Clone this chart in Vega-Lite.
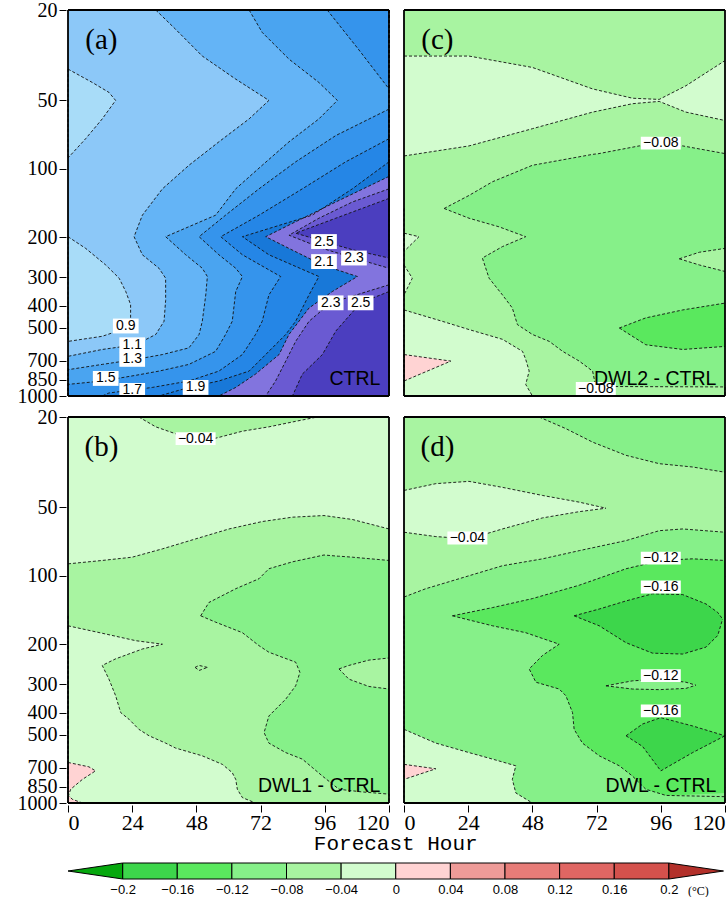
{
"$schema":"https://vega.github.io/schema/vega-lite/v6.json",
"background":"white",
"padding":{"left":5,"top":0,"right":0,"bottom":0},
"spacing":0,
"resolve":{"scale":{"x":"independent","y":"independent","color":"shared"}},
"config":{
 "view":{"stroke":null},
 "font":"Liberation Sans",
 "header":{"labels":false,"title":null,"labelFontSize":0,"labelPadding":0,"titlePadding":0},
 "headerFacet":{"labels":false,"title":null,"labelFontSize":0,"labelPadding":0,"titlePadding":0},
 "axis":{"grid":true,"gridColor":"#b4b4b4","gridDash":[2,3],"gridWidth":1,"domain":false,"tickColor":"black","tickSize":7,"tickWidth":1,"labelColor":"black","zindex":1,"title":null,"labelFlush":false,"labelOverlap":false},
 "axisX":{"labelFont":"Liberation Serif","labelFontSize":22,"labelPadding":0,"labelFlush":true},
 "axisY":{"labelFont":"Liberation Serif","labelFontSize":20,"labelPadding":2,"minExtent":61,"maxExtent":61}
},
"datasets":{
"m":[
{"k":"N","P":"a","s":"(a)","n":"CTRL"},
{"k":"N","P":"b","s":"(b)","n":"DWL1 - CTRL"},
{"k":"N","P":"c","s":"(c)","n":"DWL2 - CTRL"},
{"k":"N","P":"d","s":"(d)","n":"DWL - CTRL"},
{"k":"V","P":"a","r":"a0","z":0,"c":"a1","h":0,"p":20,"p2":1000},
{"k":"V","P":"a","r":"a0","z":0,"c":"a1","h":120,"p":20,"p2":1000},
{"k":"H","P":"a","r":"ap1","z":1,"c":"a0","p":36.4,"h":0,"h2":0},
{"k":"H","P":"a","r":"ap1","z":1,"c":"a0","p":41.7,"h":0,"h2":9.1},
{"k":"H","P":"a","r":"ap1","z":1,"c":"a0","p":46.1,"h":0,"h2":15.3},
{"k":"H","P":"a","r":"ap1","z":1,"c":"a0","p":50.0,"h":0,"h2":17.8},
{"k":"H","P":"a","r":"ap1","z":1,"c":"a0","p":60.3,"h":0,"h2":12.8},
{"k":"H","P":"a","r":"ap1","z":1,"c":"a0","p":73.7,"h":0,"h2":6.6},
{"k":"H","P":"a","r":"ap1","z":1,"c":"a0","p":89.6,"h":0,"h2":0},
{"k":"H","P":"a","r":"ap2","z":1,"c":"a0","p":199,"h":0,"h2":0},
{"k":"H","P":"a","r":"ap2","z":1,"c":"a0","p":224,"h":0,"h2":6.6},
{"k":"H","P":"a","r":"ap2","z":1,"c":"a0","p":265,"h":0,"h2":14.1},
{"k":"H","P":"a","r":"ap2","z":1,"c":"a0","p":303,"h":0,"h2":19.1},
{"k":"H","P":"a","r":"ap2","z":1,"c":"a0","p":347,"h":0,"h2":21.6},
{"k":"H","P":"a","r":"ap2","z":1,"c":"a0","p":396,"h":0,"h2":23.4},
{"k":"H","P":"a","r":"ap2","z":1,"c":"a0","p":469,"h":0,"h2":23.4},
{"k":"H","P":"a","r":"ap2","z":1,"c":"a0","p":510,"h":0,"h2":20.3},
{"k":"H","P":"a","r":"ap2","z":1,"c":"a0","p":546,"h":0,"h2":12.8},
{"k":"H","P":"a","r":"ap2","z":1,"c":"a0","p":575,"h":0,"h2":0},
{"k":"H","P":"a","r":"a11","z":2,"c":"a2","p":20,"h":32.8,"h2":120},
{"k":"H","P":"a","r":"a11","z":2,"c":"a2","p":24.3,"h":40.2,"h2":120},
{"k":"H","P":"a","r":"a11","z":2,"c":"a2","p":31.9,"h":50.2,"h2":120},
{"k":"H","P":"a","r":"a11","z":2,"c":"a2","p":40.3,"h":62.7,"h2":120},
{"k":"H","P":"a","r":"a11","z":2,"c":"a2","p":50.0,"h":75.1,"h2":120},
{"k":"H","P":"a","r":"a11","z":2,"c":"a2","p":60.3,"h":67.7,"h2":120},
{"k":"H","P":"a","r":"a11","z":2,"c":"a2","p":76.1,"h":56.4,"h2":120},
{"k":"H","P":"a","r":"a11","z":2,"c":"a2","p":96.5,"h":45.2,"h2":120},
{"k":"H","P":"a","r":"a11","z":2,"c":"a2","p":122.5,"h":35.3,"h2":120},
{"k":"H","P":"a","r":"a11","z":2,"c":"a2","p":160,"h":27.8,"h2":120},
{"k":"H","P":"a","r":"a11","z":2,"c":"a2","p":199,"h":24.7,"h2":120},
{"k":"H","P":"a","r":"a11","z":2,"c":"a2","p":239,"h":27.8,"h2":120},
{"k":"H","P":"a","r":"a11","z":2,"c":"a2","p":274,"h":34.0,"h2":120},
{"k":"H","P":"a","r":"a11","z":2,"c":"a2","p":303,"h":36.5,"h2":120},
{"k":"H","P":"a","r":"a11","z":2,"c":"a2","p":380,"h":36.5,"h2":120},
{"k":"H","P":"a","r":"a11","z":2,"c":"a2","p":469,"h":35.9,"h2":120},
{"k":"H","P":"a","r":"a11","z":2,"c":"a2","p":536,"h":32.8,"h2":120},
{"k":"H","P":"a","r":"a11","z":2,"c":"a2","p":595,"h":25.3,"h2":120},
{"k":"H","P":"a","r":"a11","z":2,"c":"a2","p":624,"h":12.8,"h2":120},
{"k":"H","P":"a","r":"a11","z":2,"c":"a2","p":669,"h":0,"h2":120},
{"k":"H","P":"a","r":"a11","z":2,"c":"a2","p":1000,"h":0,"h2":120},
{"k":"H","P":"a","r":"a13","z":3,"c":"a3","p":20,"h":67.7,"h2":120},
{"k":"H","P":"a","r":"a13","z":3,"c":"a3","p":25.1,"h":72.6,"h2":120},
{"k":"H","P":"a","r":"a13","z":3,"c":"a3","p":32.9,"h":82.6,"h2":120},
{"k":"H","P":"a","r":"a13","z":3,"c":"a3","p":41.7,"h":93.8,"h2":120},
{"k":"H","P":"a","r":"a13","z":3,"c":"a3","p":50.0,"h":100.7,"h2":120},
{"k":"H","P":"a","r":"a13","z":3,"c":"a3","p":60.3,"h":93.8,"h2":120},
{"k":"H","P":"a","r":"a13","z":3,"c":"a3","p":76.1,"h":82.6,"h2":120},
{"k":"H","P":"a","r":"a13","z":3,"c":"a3","p":96.5,"h":72.6,"h2":120},
{"k":"H","P":"a","r":"a13","z":3,"c":"a3","p":122.5,"h":62.7,"h2":120},
{"k":"H","P":"a","r":"a13","z":3,"c":"a3","p":160,"h":55.2,"h2":120},
{"k":"H","P":"a","r":"a13","z":3,"c":"a3","p":199,"h":36.5,"h2":120},
{"k":"H","P":"a","r":"a13","z":3,"c":"a3","p":239,"h":44.0,"h2":120},
{"k":"H","P":"a","r":"a13","z":3,"c":"a3","p":274,"h":50.2,"h2":120},
{"k":"H","P":"a","r":"a13","z":3,"c":"a3","p":298,"h":52.1,"h2":120},
{"k":"H","P":"a","r":"a13","z":3,"c":"a3","p":359,"h":51.5,"h2":120},
{"k":"H","P":"a","r":"a13","z":3,"c":"a3","p":469,"h":50.2,"h2":120},
{"k":"H","P":"a","r":"a13","z":3,"c":"a3","p":536,"h":49.0,"h2":120},
{"k":"H","P":"a","r":"a13","z":3,"c":"a3","p":614,"h":45.2,"h2":120},
{"k":"H","P":"a","r":"a13","z":3,"c":"a3","p":657,"h":35.3,"h2":120},
{"k":"H","P":"a","r":"a13","z":3,"c":"a3","p":690,"h":25.3,"h2":120},
{"k":"H","P":"a","r":"a13","z":3,"c":"a3","p":726,"h":12.8,"h2":120},
{"k":"H","P":"a","r":"a13","z":3,"c":"a3","p":766,"h":0,"h2":120},
{"k":"H","P":"a","r":"a13","z":3,"c":"a3","p":1000,"h":0,"h2":120},
{"k":"H","P":"a","r":"a15c","z":4,"c":"a4","p":20,"h":96.9,"h2":120},
{"k":"H","P":"a","r":"a15c","z":4,"c":"a4","p":29.6,"h":108.4,"h2":120},
{"k":"H","P":"a","r":"a15c","z":4,"c":"a4","p":44.5,"h":120,"h2":120},
{"k":"H","P":"a","r":"a15","z":4,"c":"a4","p":54.6,"h":120,"h2":120},
{"k":"H","P":"a","r":"a15","z":4,"c":"a4","p":71.4,"h":100.1,"h2":120},
{"k":"H","P":"a","r":"a15","z":4,"c":"a4","p":93.2,"h":85.1,"h2":120},
{"k":"H","P":"a","r":"a15","z":4,"c":"a4","p":122.5,"h":71.4,"h2":120},
{"k":"H","P":"a","r":"a15","z":4,"c":"a4","p":160,"h":58.9,"h2":120},
{"k":"H","P":"a","r":"a15","z":4,"c":"a4","p":199,"h":49.0,"h2":120},
{"k":"H","P":"a","r":"a15","z":4,"c":"a4","p":239,"h":56.4,"h2":120},
{"k":"H","P":"a","r":"a15","z":4,"c":"a4","p":274,"h":62.7,"h2":120},
{"k":"H","P":"a","r":"a15","z":4,"c":"a4","p":298,"h":65.2,"h2":120},
{"k":"H","P":"a","r":"a15","z":4,"c":"a4","p":347,"h":62.7,"h2":120},
{"k":"H","P":"a","r":"a15","z":4,"c":"a4","p":469,"h":61.4,"h2":120},
{"k":"H","P":"a","r":"a15","z":4,"c":"a4","p":536,"h":58.9,"h2":120},
{"k":"H","P":"a","r":"a15","z":4,"c":"a4","p":636,"h":55.2,"h2":120},
{"k":"H","P":"a","r":"a15","z":4,"c":"a4","p":726,"h":45.2,"h2":120},
{"k":"H","P":"a","r":"a15","z":4,"c":"a4","p":777,"h":34.0,"h2":120},
{"k":"H","P":"a","r":"a15","z":4,"c":"a4","p":811,"h":25.3,"h2":120},
{"k":"H","P":"a","r":"a15","z":4,"c":"a4","p":859,"h":12.8,"h2":120},
{"k":"H","P":"a","r":"a15","z":4,"c":"a4","p":889,"h":0,"h2":120},
{"k":"H","P":"a","r":"a15","z":4,"c":"a4","p":1000,"h":0,"h2":120},
{"k":"H","P":"a","r":"a17","z":5,"c":"a5","p":73.7,"h":120,"h2":120},
{"k":"H","P":"a","r":"a17","z":5,"c":"a5","p":93.2,"h":103.8,"h2":120},
{"k":"H","P":"a","r":"a17","z":5,"c":"a5","p":122.5,"h":87.6,"h2":120},
{"k":"H","P":"a","r":"a17","z":5,"c":"a5","p":160,"h":71.4,"h2":120},
{"k":"H","P":"a","r":"a17","z":5,"c":"a5","p":199,"h":57.1,"h2":120},
{"k":"H","P":"a","r":"a17","z":5,"c":"a5","p":239,"h":65.2,"h2":120},
{"k":"H","P":"a","r":"a17","z":5,"c":"a5","p":298,"h":79.5,"h2":120},
{"k":"H","P":"a","r":"a17","z":5,"c":"a5","p":359,"h":75.1,"h2":120},
{"k":"H","P":"a","r":"a17","z":5,"c":"a5","p":469,"h":72.6,"h2":120},
{"k":"H","P":"a","r":"a17","z":5,"c":"a5","p":536,"h":70.1,"h2":120},
{"k":"H","P":"a","r":"a17","z":5,"c":"a5","p":657,"h":65.2,"h2":120},
{"k":"H","P":"a","r":"a17","z":5,"c":"a5","p":777,"h":56.4,"h2":120},
{"k":"H","P":"a","r":"a17","z":5,"c":"a5","p":859,"h":45.2,"h2":120},
{"k":"H","P":"a","r":"a17","z":5,"c":"a5","p":917,"h":31.5,"h2":120},
{"k":"H","P":"a","r":"a17","z":5,"c":"a5","p":970,"h":15.3,"h2":120},
{"k":"H","P":"a","r":"a17","z":5,"c":"a5","p":1000,"h":12.8,"h2":120},
{"k":"H","P":"a","r":"a19","z":6,"c":"a6","p":93.2,"h":120,"h2":120},
{"k":"H","P":"a","r":"a19","z":6,"c":"a6","p":122.5,"h":106.3,"h2":120},
{"k":"H","P":"a","r":"a19","z":6,"c":"a6","p":160,"h":91.3,"h2":120},
{"k":"H","P":"a","r":"a19","z":6,"c":"a6","p":199,"h":65.2,"h2":120},
{"k":"H","P":"a","r":"a19","z":6,"c":"a6","p":239,"h":75.1,"h2":120},
{"k":"H","P":"a","r":"a19","z":6,"c":"a6","p":298,"h":93.8,"h2":120},
{"k":"H","P":"a","r":"a19","z":6,"c":"a6","p":359,"h":90.1,"h2":120},
{"k":"H","P":"a","r":"a19","z":6,"c":"a6","p":469,"h":85.1,"h2":120},
{"k":"H","P":"a","r":"a19","z":6,"c":"a6","p":536,"h":81.4,"h2":120},
{"k":"H","P":"a","r":"a19","z":6,"c":"a6","p":657,"h":73.9,"h2":120},
{"k":"H","P":"a","r":"a19","z":6,"c":"a6","p":777,"h":67.7,"h2":120},
{"k":"H","P":"a","r":"a19","z":6,"c":"a6","p":859,"h":56.4,"h2":120},
{"k":"H","P":"a","r":"a19","z":6,"c":"a6","p":917,"h":45.2,"h2":120},
{"k":"H","P":"a","r":"a19","z":6,"c":"a6","p":1000,"h":34.0,"h2":120},
{"k":"H","P":"a","r":"a21","z":7,"c":"a7","p":108,"h":120,"h2":120},
{"k":"H","P":"a","r":"a21","z":7,"c":"a7","p":140,"h":100.1,"h2":120},
{"k":"H","P":"a","r":"a21","z":7,"c":"a7","p":171,"h":85.1,"h2":120},
{"k":"H","P":"a","r":"a21","z":7,"c":"a7","p":199,"h":73.9,"h2":120},
{"k":"H","P":"a","r":"a21","z":7,"c":"a7","p":224,"h":82.6,"h2":120},
{"k":"H","P":"a","r":"a21","z":7,"c":"a7","p":265,"h":95.1,"h2":120},
{"k":"H","P":"a","r":"a21","z":7,"c":"a7","p":298,"h":108.2,"h2":120},
{"k":"H","P":"a","r":"a21","z":7,"c":"a7","p":347,"h":98.8,"h2":120},
{"k":"H","P":"a","r":"a21","z":7,"c":"a7","p":410,"h":90.1,"h2":120},
{"k":"H","P":"a","r":"a21","z":7,"c":"a7","p":536,"h":82.6,"h2":120},
{"k":"H","P":"a","r":"a21","z":7,"c":"a7","p":657,"h":78.9,"h2":120},
{"k":"H","P":"a","r":"a21","z":7,"c":"a7","p":801,"h":70.1,"h2":120},
{"k":"H","P":"a","r":"a21","z":7,"c":"a7","p":917,"h":62.7,"h2":120},
{"k":"H","P":"a","r":"a21","z":7,"c":"a7","p":1000,"h":56.4,"h2":120},
{"k":"H","P":"a","r":"a23u","z":8,"c":"a8","p":122.5,"h":120,"h2":120},
{"k":"H","P":"a","r":"a23u","z":8,"c":"a8","p":140,"h":106.3,"h2":120},
{"k":"H","P":"a","r":"a23u","z":8,"c":"a8","p":165,"h":93.8,"h2":120},
{"k":"H","P":"a","r":"a23u","z":8,"c":"a8","p":196,"h":82.6,"h2":120},
{"k":"H","P":"a","r":"a23u","z":8,"c":"a8","p":224,"h":95.1,"h2":120},
{"k":"H","P":"a","r":"a23u","z":8,"c":"a8","p":247,"h":106.9,"h2":120},
{"k":"H","P":"a","r":"a23u","z":8,"c":"a8","p":274,"h":120,"h2":120},
{"k":"H","P":"a","r":"a23l","z":8,"c":"a8","p":324,"h":120,"h2":120},
{"k":"H","P":"a","r":"a23l","z":8,"c":"a8","p":389,"h":98.2,"h2":120},
{"k":"H","P":"a","r":"a23l","z":8,"c":"a8","p":469,"h":90.1,"h2":120},
{"k":"H","P":"a","r":"a23l","z":8,"c":"a8","p":575,"h":85.1,"h2":120},
{"k":"H","P":"a","r":"a23l","z":8,"c":"a8","p":702,"h":81.4,"h2":120},
{"k":"H","P":"a","r":"a23l","z":8,"c":"a8","p":859,"h":77.6,"h2":120},
{"k":"H","P":"a","r":"a23l","z":8,"c":"a8","p":1000,"h":73.9,"h2":120},
{"k":"H","P":"a","r":"a25u","z":9,"c":"a9","p":135,"h":120,"h2":120},
{"k":"H","P":"a","r":"a25u","z":9,"c":"a9","p":165,"h":100.1,"h2":120},
{"k":"H","P":"a","r":"a25u","z":9,"c":"a9","p":192,"h":85.1,"h2":120},
{"k":"H","P":"a","r":"a25u","z":9,"c":"a9","p":209,"h":95.7,"h2":120},
{"k":"H","P":"a","r":"a25u","z":9,"c":"a9","p":227,"h":106.3,"h2":120},
{"k":"H","P":"a","r":"a25u","z":9,"c":"a9","p":247,"h":120,"h2":120},
{"k":"H","P":"a","r":"a25l","z":9,"c":"a9","p":347,"h":120,"h2":120},
{"k":"H","P":"a","r":"a25l","z":9,"c":"a9","p":389,"h":109.4,"h2":120},
{"k":"H","P":"a","r":"a25l","z":9,"c":"a9","p":518,"h":100.1,"h2":120},
{"k":"H","P":"a","r":"a25l","z":9,"c":"a9","p":657,"h":95.1,"h2":120},
{"k":"H","P":"a","r":"a25l","z":9,"c":"a9","p":801,"h":87.6,"h2":120},
{"k":"H","P":"a","r":"a25l","z":9,"c":"a9","p":1000,"h":83.9,"h2":120},
{"k":"T","P":"a","h":21.6,"p":492,"s":"0.9"},
{"k":"T","P":"a","h":24.0,"p":595,"s":"1.1"},
{"k":"T","P":"a","h":24.0,"p":690,"s":"1.3"},
{"k":"T","P":"a","h":14.1,"p":837,"s":"1.5"},
{"k":"T","P":"a","h":24.0,"p":945,"s":"1.7"},
{"k":"T","P":"a","h":47.7,"p":917,"s":"1.9"},
{"k":"T","P":"a","h":95.7,"p":209,"s":"2.5"},
{"k":"T","P":"a","h":106.9,"p":247,"s":"2.3"},
{"k":"T","P":"a","h":95.7,"p":256,"s":"2.1"},
{"k":"T","P":"a","h":98.2,"p":389,"s":"2.3"},
{"k":"T","P":"a","h":109.4,"p":389,"s":"2.5"},
{"k":"V","P":"b","r":"b0","z":0,"c":"n1","h":0,"p":20,"p2":1000},
{"k":"V","P":"b","r":"b0","z":0,"c":"n1","h":120,"p":20,"p2":1000},
{"k":"V","P":"b","r":"b1","z":1,"c":"n2","h":26.5,"p":20,"p2":20},
{"k":"V","P":"b","r":"b1","z":1,"c":"n2","h":32.8,"p":20,"p2":22.1},
{"k":"V","P":"b","r":"b1","z":1,"c":"n2","h":40.2,"p":20,"p2":23.7},
{"k":"V","P":"b","r":"b1","z":1,"c":"n2","h":47.7,"p":20,"p2":24.8},
{"k":"V","P":"b","r":"b1","z":1,"c":"n2","h":55.2,"p":20,"p2":24.8},
{"k":"V","P":"b","r":"b1","z":1,"c":"n2","h":65.2,"p":20,"p2":23.1},
{"k":"V","P":"b","r":"b1","z":1,"c":"n2","h":75.1,"p":20,"p2":22.1},
{"k":"V","P":"b","r":"b1","z":1,"c":"n2","h":85.1,"p":20,"p2":20.9},
{"k":"V","P":"b","r":"b1","z":1,"c":"n2","h":93.2,"p":20,"p2":20},
{"k":"V","P":"b","r":"b2","z":1,"c":"n2","h":0,"p":88.6,"p2":1000},
{"k":"V","P":"b","r":"b2","z":1,"c":"n2","h":12.8,"p":85.6,"p2":1000},
{"k":"V","P":"b","r":"b2","z":1,"c":"n2","h":24.0,"p":82.8,"p2":1000},
{"k":"V","P":"b","r":"b2","z":1,"c":"n2","h":35.3,"p":76.1,"p2":1000},
{"k":"V","P":"b","r":"b2","z":1,"c":"n2","h":47.7,"p":68.8,"p2":1000},
{"k":"V","P":"b","r":"b2","z":1,"c":"n2","h":60.2,"p":62.2,"p2":1000},
{"k":"V","P":"b","r":"b2","z":1,"c":"n2","h":72.6,"p":57.7,"p2":1000},
{"k":"V","P":"b","r":"b2","z":1,"c":"n2","h":83.9,"p":55.2,"p2":1000},
{"k":"V","P":"b","r":"b2","z":1,"c":"n2","h":95.7,"p":54.3,"p2":1000},
{"k":"V","P":"b","r":"b2","z":1,"c":"n2","h":106.3,"p":56.5,"p2":1000},
{"k":"V","P":"b","r":"b2","z":1,"c":"n2","h":120,"p":62.2,"p2":1000},
{"k":"V","P":"b","r":"b3","z":2,"c":"n3","nb":1,"h":49.6,"p":150,"p2":150},
{"k":"V","P":"b","r":"b3","z":2,"c":"n3","nb":1,"h":52.7,"p":131,"p2":1000},
{"k":"V","P":"b","r":"b3","z":2,"c":"n3","nb":1,"h":62.7,"p":114,"p2":1000},
{"k":"V","P":"b","r":"b3","z":2,"c":"n3","nb":1,"h":71.4,"p":103,"p2":1000},
{"k":"V","P":"b","r":"b3","z":2,"c":"n3","nb":1,"h":75.1,"p":93.1,"p2":1000},
{"k":"V","P":"b","r":"b3","z":2,"c":"n3","nb":1,"h":83.9,"p":86.8,"p2":1000},
{"k":"V","P":"b","r":"b3","z":2,"c":"n3","nb":1,"h":95.7,"p":81.0,"p2":1000},
{"k":"V","P":"b","r":"b3","z":2,"c":"n3","nb":1,"h":101.1,"p":82.0,"p2":1000},
{"k":"V","P":"b","r":"b3","z":2,"c":"n3","nb":1,"h":101.5,"p":82.0,"p2":870},
{"k":"V","P":"b","r":"b3","z":2,"c":"n3","nb":1,"h":106.3,"p":82.8,"p2":881},
{"k":"V","P":"b","r":"b3","z":2,"c":"n3","nb":1,"h":120,"p":85.6,"p2":914},
{"k":"H","P":"b","r":"b4","z":3,"c":"n2","p":150,"h":0,"h2":49.6},
{"k":"H","P":"b","r":"b4","z":3,"c":"n2","p":160,"h":0,"h2":55.2},
{"k":"H","P":"b","r":"b4","z":3,"c":"n2","p":178,"h":0,"h2":65.2},
{"k":"H","P":"b","r":"b4","z":3,"c":"n2","p":203,"h":0,"h2":71.4},
{"k":"H","P":"b","r":"b4","z":3,"c":"n2","p":217,"h":0,"h2":75.1},
{"k":"H","P":"b","r":"b4","z":3,"c":"n2","p":240,"h":0,"h2":85.1},
{"k":"H","P":"b","r":"b4","z":3,"c":"n2","p":266,"h":0,"h2":86.7},
{"k":"H","P":"b","r":"b4","z":3,"c":"n2","p":305,"h":0,"h2":85.1},
{"k":"H","P":"b","r":"b4","z":3,"c":"n2","p":349,"h":0,"h2":81.4},
{"k":"H","P":"b","r":"b4","z":3,"c":"n2","p":414,"h":0,"h2":75.1},
{"k":"H","P":"b","r":"b4","z":3,"c":"n2","p":490,"h":0,"h2":73.3},
{"k":"H","P":"b","r":"b4","z":3,"c":"n2","p":545,"h":0,"h2":75.1},
{"k":"H","P":"b","r":"b4","z":3,"c":"n2","p":600,"h":0,"h2":81.4},
{"k":"H","P":"b","r":"b4","z":3,"c":"n2","p":641,"h":0,"h2":87.6},
{"k":"H","P":"b","r":"b4","z":3,"c":"n2","p":761,"h":0,"h2":95.1},
{"k":"H","P":"b","r":"b4","z":3,"c":"n2","p":870,"h":0,"h2":101.3},
{"k":"H","P":"b","r":"b4","z":3,"c":"n2","p":894,"h":0,"h2":110.0},
{"k":"H","P":"b","r":"b4","z":3,"c":"n2","p":914,"h":0,"h2":120},
{"k":"H","P":"b","r":"b4","z":3,"c":"n2","p":1000,"h":0,"h2":120},
{"k":"V","P":"b","r":"b5","z":3,"c":"n2","h":101.3,"p":257,"p2":257},
{"k":"V","P":"b","r":"b5","z":3,"c":"n2","h":105.0,"p":248,"p2":285},
{"k":"V","P":"b","r":"b5","z":3,"c":"n2","h":112.5,"p":235,"p2":307},
{"k":"V","P":"b","r":"b5","z":3,"c":"n2","h":120,"p":230,"p2":315},
{"k":"V","P":"b","r":"b6","z":3,"c":"n2","h":47.5,"p":253,"p2":253},
{"k":"V","P":"b","r":"b6","z":3,"c":"n2","h":49.0,"p":248,"p2":261},
{"k":"V","P":"b","r":"b6","z":3,"c":"n2","h":52.1,"p":253,"p2":253},
{"k":"H","P":"b","r":"b7","z":4,"c":"n1","p":166,"h":0,"h2":0},
{"k":"H","P":"b","r":"b7","z":4,"c":"n1","p":179,"h":0,"h2":12.8},
{"k":"H","P":"b","r":"b7","z":4,"c":"n1","p":193,"h":0,"h2":25.3},
{"k":"H","P":"b","r":"b7","z":4,"c":"n1","p":200,"h":0,"h2":35.3},
{"k":"H","P":"b","r":"b7","z":4,"c":"n1","p":210,"h":0,"h2":27.8},
{"k":"H","P":"b","r":"b7","z":4,"c":"n1","p":232,"h":0,"h2":17.8},
{"k":"H","P":"b","r":"b7","z":4,"c":"n1","p":248,"h":0,"h2":12.8},
{"k":"H","P":"b","r":"b7","z":4,"c":"n1","p":285,"h":0,"h2":15.3},
{"k":"H","P":"b","r":"b7","z":4,"c":"n1","p":337,"h":0,"h2":17.8},
{"k":"H","P":"b","r":"b7","z":4,"c":"n1","p":400,"h":0,"h2":19.7},
{"k":"H","P":"b","r":"b7","z":4,"c":"n1","p":428,"h":0,"h2":22.8},
{"k":"H","P":"b","r":"b7","z":4,"c":"n1","p":474,"h":0,"h2":26.5},
{"k":"H","P":"b","r":"b7","z":4,"c":"n1","p":506,"h":0,"h2":30.3},
{"k":"H","P":"b","r":"b7","z":4,"c":"n1","p":545,"h":0,"h2":36.5},
{"k":"H","P":"b","r":"b7","z":4,"c":"n1","p":573,"h":0,"h2":40.2},
{"k":"H","P":"b","r":"b7","z":4,"c":"n1","p":620,"h":0,"h2":50.2},
{"k":"H","P":"b","r":"b7","z":4,"c":"n1","p":676,"h":0,"h2":57.7},
{"k":"H","P":"b","r":"b7","z":4,"c":"n1","p":735,"h":0,"h2":61.4},
{"k":"H","P":"b","r":"b7","z":4,"c":"n1","p":787,"h":0,"h2":62.7},
{"k":"H","P":"b","r":"b7","z":4,"c":"n1","p":870,"h":0,"h2":63.3},
{"k":"H","P":"b","r":"b7","z":4,"c":"n1","p":947,"h":0,"h2":65.2},
{"k":"H","P":"b","r":"b7","z":4,"c":"n1","p":1000,"h":0,"h2":70.1},
{"k":"H","P":"b","r":"b8","z":5,"c":"p1","p":663,"h":0,"h2":0},
{"k":"H","P":"b","r":"b8","z":5,"c":"p1","p":693,"h":0,"h2":7.8},
{"k":"H","P":"b","r":"b8","z":5,"c":"p1","p":722,"h":0,"h2":10.3},
{"k":"H","P":"b","r":"b8","z":5,"c":"p1","p":787,"h":0,"h2":5.4},
{"k":"H","P":"b","r":"b8","z":5,"c":"p1","p":870,"h":0,"h2":1.0},
{"k":"H","P":"b","r":"b8","z":5,"c":"p1","p":926,"h":0,"h2":0.2},
{"k":"H","P":"b","r":"b8","z":5,"c":"p1","p":963,"h":0,"h2":1.6},
{"k":"H","P":"b","r":"b8","z":5,"c":"p1","p":1000,"h":0,"h2":5.4},
{"k":"T","P":"b","h":47.7,"p":24.9,"s":"−0.04"},
{"k":"V","P":"c","r":"c0","z":0,"c":"n2","h":0,"p":20,"p2":1000},
{"k":"V","P":"c","r":"c0","z":0,"c":"n2","h":120,"p":20,"p2":1000},
{"k":"V","P":"c","r":"c1","z":1,"c":"n1","h":0,"p":31.9,"p2":87.8},
{"k":"V","P":"c","r":"c1","z":1,"c":"n1","h":24.3,"p":31.9,"p2":79.3},
{"k":"V","P":"c","r":"c1","z":1,"c":"n1","h":48.0,"p":35.8,"p2":66.6},
{"k":"V","P":"c","r":"c1","z":1,"c":"n1","h":70.5,"p":44.5,"p2":56.3},
{"k":"V","P":"c","r":"c1","z":1,"c":"n1","h":85.4,"p":48.9,"p2":51.7},
{"k":"V","P":"c","r":"c1","z":1,"c":"n1","h":95.4,"p":49.5,"p2":50.5},
{"k":"V","P":"c","r":"c1","z":1,"c":"n1","h":105.4,"p":43.1,"p2":56.3},
{"k":"V","P":"c","r":"c1","z":1,"c":"n1","h":120,"p":33.4,"p2":61.3},
{"k":"V","P":"c","r":"c2","z":1,"c":"n3","nb":1,"h":15.0,"p":149.5,"p2":149.5},
{"k":"V","P":"c","r":"c2","z":1,"c":"n3","nb":1,"h":24.3,"p":131,"p2":1000},
{"k":"V","P":"c","r":"c2","z":1,"c":"n3","nb":1,"h":33.1,"p":114,"p2":1000},
{"k":"V","P":"c","r":"c2","z":1,"c":"n3","nb":1,"h":48.0,"p":96.5,"p2":1000},
{"k":"V","P":"c","r":"c2","z":1,"c":"n3","nb":1,"h":70.5,"p":86.4,"p2":1000},
{"k":"V","P":"c","r":"c2","z":1,"c":"n3","nb":1,"h":71.5,"p":86.1,"p2":1000},
{"k":"V","P":"c","r":"c2","z":1,"c":"n3","nb":1,"h":72.0,"p":86.1,"p2":912},
{"k":"V","P":"c","r":"c2","z":1,"c":"n3","nb":1,"h":87.9,"p":79.3,"p2":909},
{"k":"V","P":"c","r":"c2","z":1,"c":"n3","nb":1,"h":96.0,"p":78.3,"p2":908},
{"k":"V","P":"c","r":"c2","z":1,"c":"n3","nb":1,"h":104.2,"p":79.3,"p2":906},
{"k":"V","P":"c","r":"c2","z":1,"c":"n3","nb":1,"h":120,"p":85.7,"p2":905},
{"k":"H","P":"c","r":"c3","z":2,"c":"n2","p":149.5,"h":0,"h2":15.0},
{"k":"H","P":"c","r":"c3","z":2,"c":"n2","p":165,"h":0,"h2":24.3},
{"k":"H","P":"c","r":"c3","z":2,"c":"n2","p":180,"h":0,"h2":35.5},
{"k":"H","P":"c","r":"c3","z":2,"c":"n2","p":199,"h":0,"h2":45.5},
{"k":"H","P":"c","r":"c3","z":2,"c":"n2","p":220,"h":0,"h2":36.8},
{"k":"H","P":"c","r":"c3","z":2,"c":"n2","p":247,"h":0,"h2":29.3},
{"k":"H","P":"c","r":"c3","z":2,"c":"n2","p":303,"h":0,"h2":31.8},
{"k":"H","P":"c","r":"c3","z":2,"c":"n2","p":359,"h":0,"h2":36.8},
{"k":"H","P":"c","r":"c3","z":2,"c":"n2","p":410,"h":0,"h2":40.5},
{"k":"H","P":"c","r":"c3","z":2,"c":"n2","p":485,"h":0,"h2":42.4},
{"k":"H","P":"c","r":"c3","z":2,"c":"n2","p":536,"h":0,"h2":48.0},
{"k":"H","P":"c","r":"c3","z":2,"c":"n2","p":575,"h":0,"h2":54.3},
{"k":"H","P":"c","r":"c3","z":2,"c":"n2","p":636,"h":0,"h2":59.3},
{"k":"H","P":"c","r":"c3","z":2,"c":"n2","p":702,"h":0,"h2":65.5},
{"k":"H","P":"c","r":"c3","z":2,"c":"n2","p":777,"h":0,"h2":70.5},
{"k":"H","P":"c","r":"c3","z":2,"c":"n2","p":908,"h":0,"h2":71.7},
{"k":"H","P":"c","r":"c3","z":2,"c":"n2","p":912,"h":0,"h2":120},
{"k":"H","P":"c","r":"c3","z":2,"c":"n2","p":1000,"h":0,"h2":120},
{"k":"V","P":"c","r":"c4","z":2,"c":"n2","h":102.9,"p":249,"p2":249},
{"k":"V","P":"c","r":"c4","z":2,"c":"n2","h":110.4,"p":233,"p2":265},
{"k":"V","P":"c","r":"c4","z":2,"c":"n2","h":120,"p":224,"p2":283},
{"k":"V","P":"c","r":"c5","z":2,"c":"n4","h":80.5,"p":502,"p2":502},
{"k":"V","P":"c","r":"c5","z":2,"c":"n4","h":90.4,"p":453,"p2":595},
{"k":"V","P":"c","r":"c5","z":2,"c":"n4","h":104.2,"p":418,"p2":624},
{"k":"V","P":"c","r":"c5","z":2,"c":"n4","h":120,"p":390,"p2":605},
{"k":"H","P":"c","r":"c6","z":3,"c":"n1","p":192,"h":0,"h2":0},
{"k":"H","P":"c","r":"c6","z":3,"c":"n1","p":199,"h":0,"h2":5.6},
{"k":"H","P":"c","r":"c6","z":3,"c":"n1","p":231,"h":0,"h2":0},
{"k":"H","P":"c","r":"c7","z":3,"c":"n1","p":265,"h":0,"h2":0},
{"k":"H","P":"c","r":"c7","z":3,"c":"n1","p":303,"h":0,"h2":3.1},
{"k":"H","P":"c","r":"c7","z":3,"c":"n1","p":359,"h":0,"h2":0},
{"k":"H","P":"c","r":"c8","z":3,"c":"n1","p":418,"h":0,"h2":0},
{"k":"H","P":"c","r":"c8","z":3,"c":"n1","p":469,"h":0,"h2":14.3},
{"k":"H","P":"c","r":"c8","z":3,"c":"n1","p":510,"h":0,"h2":24.3},
{"k":"H","P":"c","r":"c8","z":3,"c":"n1","p":563,"h":0,"h2":36.8},
{"k":"H","P":"c","r":"c8","z":3,"c":"n1","p":636,"h":0,"h2":44.3},
{"k":"H","P":"c","r":"c8","z":3,"c":"n1","p":690,"h":0,"h2":45.5},
{"k":"H","P":"c","r":"c8","z":3,"c":"n1","p":777,"h":0,"h2":46.8},
{"k":"H","P":"c","r":"c8","z":3,"c":"n1","p":889,"h":0,"h2":45.5},
{"k":"H","P":"c","r":"c8","z":3,"c":"n1","p":1000,"h":0,"h2":48.0},
{"k":"H","P":"c","r":"c9","z":4,"c":"p1","p":657,"h":0,"h2":0},
{"k":"H","P":"c","r":"c9","z":4,"c":"p1","p":702,"h":0,"h2":17.5},
{"k":"H","P":"c","r":"c9","z":4,"c":"p1","p":859,"h":0,"h2":0},
{"k":"T","P":"c","h":96.0,"p":77.1,"s":"−0.08"},
{"k":"T","P":"c","h":71.7,"p":927,"s":"−0.08"},
{"k":"V","P":"d","r":"d0","z":0,"c":"n2","h":0,"p":20,"p2":1000},
{"k":"V","P":"d","r":"d0","z":0,"c":"n2","h":120,"p":20,"p2":1000},
{"k":"V","P":"d","r":"d1","z":1,"c":"n3","h":50.5,"p":20,"p2":20},
{"k":"V","P":"d","r":"d1","z":1,"c":"n3","h":60.5,"p":20,"p2":22.5},
{"k":"V","P":"d","r":"d1","z":1,"c":"n3","h":70.5,"p":20,"p2":25.8},
{"k":"V","P":"d","r":"d1","z":1,"c":"n3","h":83.0,"p":20,"p2":29.5},
{"k":"V","P":"d","r":"d1","z":1,"c":"n3","h":95.4,"p":20,"p2":32.1},
{"k":"V","P":"d","r":"d1","z":1,"c":"n3","h":107.9,"p":20,"p2":33.2},
{"k":"V","P":"d","r":"d1","z":1,"c":"n3","h":120,"p":20,"p2":35.0},
{"k":"V","P":"d","r":"d2","z":1,"c":"n1","h":0,"p":42.1,"p2":64.3},
{"k":"V","P":"d","r":"d2","z":1,"c":"n1","h":11.9,"p":39.3,"p2":67.2},
{"k":"V","P":"d","r":"d2","z":1,"c":"n1","h":24.3,"p":38.4,"p2":68.8},
{"k":"V","P":"d","r":"d2","z":1,"c":"n1","h":36.8,"p":40.8,"p2":62.2},
{"k":"V","P":"d","r":"d2","z":1,"c":"n1","h":51.8,"p":44.3,"p2":55.6},
{"k":"V","P":"d","r":"d2","z":1,"c":"n1","h":65.5,"p":47.4,"p2":52.2},
{"k":"V","P":"d","r":"d2","z":1,"c":"n1","h":75.5,"p":50.4,"p2":50.4},
{"k":"V","P":"d","r":"d3","z":1,"c":"n3","h":0,"p":124,"p2":1000},
{"k":"V","P":"d","r":"d3","z":1,"c":"n3","h":8.1,"p":114,"p2":1000},
{"k":"V","P":"d","r":"d3","z":1,"c":"n3","h":20.6,"p":103,"p2":1000},
{"k":"V","P":"d","r":"d3","z":1,"c":"n3","h":36.8,"p":90.3,"p2":1000},
{"k":"V","P":"d","r":"d3","z":1,"c":"n3","h":51.8,"p":84.2,"p2":1000},
{"k":"V","P":"d","r":"d3","z":1,"c":"n3","h":65.5,"p":77.5,"p2":1000},
{"k":"V","P":"d","r":"d3","z":1,"c":"n3","h":83.0,"p":70.0,"p2":1000},
{"k":"V","P":"d","r":"d3","z":1,"c":"n3","h":95.4,"p":63.3,"p2":1000},
{"k":"V","P":"d","r":"d3","z":1,"c":"n3","h":104.2,"p":62.2,"p2":1000},
{"k":"V","P":"d","r":"d3","z":1,"c":"n3","h":120,"p":64.3,"p2":1000},
{"k":"V","P":"d","r":"d4","z":2,"c":"n4","nb":1,"h":18.1,"p":150,"p2":150},
{"k":"V","P":"d","r":"d4","z":2,"c":"n4","nb":1,"h":33.1,"p":138,"p2":1000},
{"k":"V","P":"d","r":"d4","z":2,"c":"n4","nb":1,"h":48.0,"p":126,"p2":1000},
{"k":"V","P":"d","r":"d4","z":2,"c":"n4","nb":1,"h":65.5,"p":110,"p2":1000},
{"k":"V","P":"d","r":"d4","z":2,"c":"n4","nb":1,"h":83.0,"p":93.1,"p2":1000},
{"k":"V","P":"d","r":"d4","z":2,"c":"n4","nb":1,"h":96.0,"p":85.6,"p2":1000},
{"k":"V","P":"d","r":"d4","z":2,"c":"n4","nb":1,"h":97.6,"p":85.3,"p2":1000},
{"k":"V","P":"d","r":"d4","z":2,"c":"n4","nb":1,"h":98.1,"p":85.3,"p2":932},
{"k":"V","P":"d","r":"d4","z":2,"c":"n4","nb":1,"h":107.9,"p":84.2,"p2":918},
{"k":"V","P":"d","r":"d4","z":2,"c":"n4","nb":1,"h":120,"p":85.6,"p2":903},
{"k":"V","P":"d","r":"d6","z":3,"c":"n5","h":63.6,"p":150,"p2":150},
{"k":"V","P":"d","r":"d6","z":3,"c":"n5","h":73.0,"p":140,"p2":166},
{"k":"V","P":"d","r":"d6","z":3,"c":"n5","h":83.0,"p":129,"p2":197},
{"k":"V","P":"d","r":"d6","z":3,"c":"n5","h":92.9,"p":120,"p2":219},
{"k":"V","P":"d","r":"d6","z":3,"c":"n5","h":104.2,"p":121,"p2":221},
{"k":"V","P":"d","r":"d6","z":3,"c":"n5","h":112.9,"p":133,"p2":206},
{"k":"V","P":"d","r":"d6","z":3,"c":"n5","h":117.3,"p":145,"p2":183},
{"k":"V","P":"d","r":"d6","z":3,"c":"n5","h":119.1,"p":155,"p2":155},
{"k":"V","P":"d","r":"d7","z":3,"c":"n5","h":83.0,"p":506,"p2":506},
{"k":"V","P":"d","r":"d7","z":3,"c":"n5","h":89.2,"p":449,"p2":564},
{"k":"V","P":"d","r":"d7","z":3,"c":"n5","h":96.0,"p":421,"p2":722},
{"k":"V","P":"d","r":"d7","z":3,"c":"n5","h":107.9,"p":458,"p2":600},
{"k":"V","P":"d","r":"d7","z":3,"c":"n5","h":120,"p":506,"p2":506},
{"k":"V","P":"d","r":"d8","z":3,"c":"n3","h":75.5,"p":305,"p2":305},
{"k":"V","P":"d","r":"d8","z":3,"c":"n3","h":85.4,"p":290,"p2":315},
{"k":"V","P":"d","r":"d8","z":3,"c":"n3","h":95.4,"p":285,"p2":317},
{"k":"V","P":"d","r":"d8","z":3,"c":"n3","h":105.4,"p":294,"p2":313},
{"k":"V","P":"d","r":"d8","z":3,"c":"n3","h":109.1,"p":303,"p2":303},
{"k":"H","P":"d","r":"d5","z":3,"c":"n3","p":150,"h":0,"h2":18.1},
{"k":"H","P":"d","r":"d5","z":3,"c":"n3","p":166,"h":0,"h2":33.1},
{"k":"H","P":"d","r":"d5","z":3,"c":"n3","p":178,"h":0,"h2":45.5},
{"k":"H","P":"d","r":"d5","z":3,"c":"n3","p":200,"h":0,"h2":58.0},
{"k":"H","P":"d","r":"d5","z":3,"c":"n3","p":224,"h":0,"h2":51.8},
{"k":"H","P":"d","r":"d5","z":3,"c":"n3","p":257,"h":0,"h2":46.8},
{"k":"H","P":"d","r":"d5","z":3,"c":"n3","p":294,"h":0,"h2":49.3},
{"k":"H","P":"d","r":"d5","z":3,"c":"n3","p":315,"h":0,"h2":58.0},
{"k":"H","P":"d","r":"d5","z":3,"c":"n3","p":337,"h":0,"h2":60.5},
{"k":"H","P":"d","r":"d5","z":3,"c":"n3","p":400,"h":0,"h2":63.0},
{"k":"H","P":"d","r":"d5","z":3,"c":"n3","p":474,"h":0,"h2":63.6},
{"k":"H","P":"d","r":"d5","z":3,"c":"n3","p":545,"h":0,"h2":66.7},
{"k":"H","P":"d","r":"d5","z":3,"c":"n3","p":620,"h":0,"h2":73.0},
{"k":"H","P":"d","r":"d5","z":3,"c":"n3","p":686,"h":0,"h2":80.5},
{"k":"H","P":"d","r":"d5","z":3,"c":"n3","p":761,"h":0,"h2":85.4},
{"k":"H","P":"d","r":"d5","z":3,"c":"n3","p":870,"h":0,"h2":90.4},
{"k":"H","P":"d","r":"d5","z":3,"c":"n3","p":926,"h":0,"h2":97.9},
{"k":"H","P":"d","r":"d5","z":3,"c":"n3","p":938,"h":0,"h2":120},
{"k":"H","P":"d","r":"d5","z":3,"c":"n3","p":1000,"h":0,"h2":120},
{"k":"H","P":"d","r":"d9","z":4,"c":"n1","p":474,"h":0,"h2":0},
{"k":"H","P":"d","r":"d9","z":4,"c":"n1","p":545,"h":0,"h2":11.9},
{"k":"H","P":"d","r":"d9","z":4,"c":"n1","p":600,"h":0,"h2":24.3},
{"k":"H","P":"d","r":"d9","z":4,"c":"n1","p":641,"h":0,"h2":33.1},
{"k":"H","P":"d","r":"d9","z":4,"c":"n1","p":686,"h":0,"h2":41.8},
{"k":"H","P":"d","r":"d9","z":4,"c":"n1","p":787,"h":0,"h2":40.5},
{"k":"H","P":"d","r":"d9","z":4,"c":"n1","p":903,"h":0,"h2":41.8},
{"k":"H","P":"d","r":"d9","z":4,"c":"n1","p":1000,"h":0,"h2":48.0},
{"k":"H","P":"d","r":"d10","z":5,"c":"p1","p":676,"h":0,"h2":0},
{"k":"H","P":"d","r":"d10","z":5,"c":"p1","p":707,"h":0,"h2":11.9},
{"k":"H","P":"d","r":"d10","z":5,"c":"p1","p":787,"h":0,"h2":0},
{"k":"T","P":"d","h":23.7,"p":68.2,"s":"−0.04"},
{"k":"T","P":"d","h":96.0,"p":83.6,"s":"−0.12"},
{"k":"T","P":"d","h":96.0,"p":112,"s":"−0.16"},
{"k":"T","P":"d","h":96.0,"p":275,"s":"−0.12"},
{"k":"T","P":"d","h":96.0,"p":393,"s":"−0.16"}
],
"cb":[
{"k":"B","lo":-0.2,"hi":-0.16,"c":"n5"},
{"k":"B","lo":-0.16,"hi":-0.12,"c":"n4"},
{"k":"B","lo":-0.12,"hi":-0.08,"c":"n3"},
{"k":"B","lo":-0.08,"hi":-0.04,"c":"n2"},
{"k":"B","lo":-0.04,"hi":0,"c":"n1"},
{"k":"B","lo":0,"hi":0.04,"c":"p1"},
{"k":"B","lo":0.04,"hi":0.08,"c":"p2"},
{"k":"B","lo":0.08,"hi":0.12,"c":"p3"},
{"k":"B","lo":0.12,"hi":0.16,"c":"p4"},
{"k":"B","lo":0.16,"hi":0.2,"c":"p5"},
{"k":"T","x":-0.24,"y":0.5,"y2":0.5,"c":"n6"},
{"k":"T","x":-0.2,"y":0,"y2":1,"c":"n6"},
{"k":"T","x":0.2,"y":0,"y2":1,"c":"p6"},
{"k":"T","x":0.24,"y":0.5,"y2":0.5,"c":"p6"},
{"k":"U","s":"(°C)"}
]
},
"vconcat":[
{
"data":{"name":"m"},
"facet":{"field":"P","type":"nominal","sort":["a","c","b","d"],"title":null,"header":{"labels":false,"title":null,"labelFontSize":0,"labelPadding":0,"titlePadding":0}},
"columns":2,
"spacing":{"row":17,"column":11},
"spec":{
 "width":321,"height":386,
 "layer":[
  {"transform":[{"filter":"datum.k=='V'"}],
   "encoding":{
    "x":{"field":"h","type":"quantitative","scale":{"domain":[0,120],"nice":false,"zero":false},"axis":{"values":[0,24,48,72,96,120],"gridOpacity":{"condition":{"test":"datum.value==0||datum.value==120","value":0},"value":1}}},
    "y":{"field":"p","type":"quantitative","scale":{"type":"log","domain":[20,1000],"reverse":true,"nice":false},"axis":{"values":[20,50,100,200,300,400,500,700,850,1000],"format":"d","gridOpacity":{"condition":{"test":"datum.value==20||datum.value==1000","value":0},"value":1}}},
    "y2":{"field":"p2"},
    "color":{"field":"c","type":"nominal","legend":null,"scale":{"domain":["a0","a1","a2","a3","a4","a5","a6","a7","a8","a9","n6","n5","n4","n3","n2","n1","p1","p2","p3","p4","p5","p6"],"range":["#a8dcf8","#8cc8f8","#64b4f6","#4aa4f0","#3594ec","#2586e6","#1878d8","#8274de","#6a5ad2","#4b3ebf","#06a80e","#3dd64b","#5ae85e","#86f089","#a8f4a1","#d2fcce","#ffd3d3","#ee9b98","#e77c78","#e06663","#d4514c","#b3302a"]}},
    "detail":{"field":"r"}
   },
   "layer":[
    {"transform":[{"filter":"datum.z==0"}],"mark":{"type":"area","orient":"vertical"}},
    {"transform":[{"filter":"datum.z==1"}],"mark":{"type":"area","orient":"vertical"}},
    {"transform":[{"filter":"datum.z==2"}],"mark":{"type":"area","orient":"vertical"}},
    {"transform":[{"filter":"datum.z==3"}],"mark":{"type":"area","orient":"vertical"}}
   ]
  },
  {"transform":[{"filter":"datum.k=='H'"}],
   "encoding":{
    "y":{"field":"p","type":"quantitative"},
    "x":{"field":"h","type":"quantitative"},
    "x2":{"field":"h2"},
    "color":{"field":"c","type":"nominal","legend":null},
    "detail":{"field":"r"}
   },
   "layer":[
    {"transform":[{"filter":"datum.z==1"}],"mark":{"type":"area","orient":"horizontal"}},
    {"transform":[{"filter":"datum.z==2"}],"mark":{"type":"area","orient":"horizontal"}},
    {"transform":[{"filter":"datum.z==3"}],"mark":{"type":"area","orient":"horizontal"}},
    {"transform":[{"filter":"datum.z==4"}],"mark":{"type":"area","orient":"horizontal"}},
    {"transform":[{"filter":"datum.z==5"}],"mark":{"type":"area","orient":"horizontal"}},
    {"transform":[{"filter":"datum.z==6"}],"mark":{"type":"area","orient":"horizontal"}},
    {"transform":[{"filter":"datum.z==7"}],"mark":{"type":"area","orient":"horizontal"}},
    {"transform":[{"filter":"datum.z==8"}],"mark":{"type":"area","orient":"horizontal"}},
    {"transform":[{"filter":"datum.z==9"}],"mark":{"type":"area","orient":"horizontal"}}
   ]
  },
  {"transform":[{"filter":"datum.k=='V' && datum.nt!=1"}],"mark":{"type":"line","color":"#111","strokeWidth":0.9,"strokeDash":[3,2]},
   "encoding":{"x":{"field":"h","type":"quantitative"},"y":{"field":"p","type":"quantitative"},"detail":{"field":"r"}}},
  {"transform":[{"filter":"datum.k=='V' && datum.nb!=1"}],"mark":{"type":"line","color":"#111","strokeWidth":0.9,"strokeDash":[3,2]},
   "encoding":{"x":{"field":"h","type":"quantitative"},"y":{"field":"p2","type":"quantitative"},"detail":{"field":"r"}}},
  {"transform":[{"filter":"datum.k=='H'"}],"mark":{"type":"line","color":"#111","strokeWidth":0.9,"strokeDash":[3,2]},
   "encoding":{"x":{"field":"h","type":"quantitative"},"y":{"field":"p","type":"quantitative"},"detail":{"field":"r"},"order":{"field":"p","type":"quantitative"}}},
  {"transform":[{"filter":"datum.k=='H'"}],"mark":{"type":"line","color":"#111","strokeWidth":0.9,"strokeDash":[3,2]},
   "encoding":{"x":{"field":"h2","type":"quantitative"},"y":{"field":"p","type":"quantitative"},"detail":{"field":"r"},"order":{"field":"p","type":"quantitative"}}},
  {"transform":[{"filter":"datum.k=='T' && length(datum.s)>3"}],"mark":{"type":"point","shape":"M-1.4,-0.45H1.4V0.45H-1.4Z","size":816,"filled":true,"fill":"white","opacity":1,"strokeWidth":0},
   "encoding":{"x":{"field":"h","type":"quantitative"},"y":{"field":"p","type":"quantitative"}}},
  {"transform":[{"filter":"datum.k=='T' && length(datum.s)<=3"}],"mark":{"type":"point","shape":"M-0.9,-0.52H0.9V0.52H-0.9Z","size":816,"filled":true,"fill":"white","opacity":1,"strokeWidth":0},
   "encoding":{"x":{"field":"h","type":"quantitative"},"y":{"field":"p","type":"quantitative"}}},
  {"transform":[{"filter":"datum.k=='T'"}],"mark":{"type":"text","font":"Liberation Sans","fontSize":14,"color":"black","align":"center","baseline":"middle"},
   "encoding":{"x":{"field":"h","type":"quantitative"},"y":{"field":"p","type":"quantitative"},"text":{"field":"s"}}},
  {"transform":[{"filter":"datum.k=='N'"}],"mark":{"type":"text","font":"Liberation Serif","fontSize":29,"color":"black","align":"center","baseline":"middle"},
   "encoding":{"x":{"datum":12.5},"y":{"datum":27},"text":{"field":"s"}}},
  {"transform":[{"filter":"datum.k=='N'"}],"mark":{"type":"text","font":"Liberation Sans","fontSize":19.5,"color":"black","align":"right","baseline":"alphabetic"},
   "encoding":{"x":{"datum":116.8},"y":{"datum":893},"text":{"field":"n"}}},
  {"transform":[{"filter":"datum.k=='N'"}],"mark":{"type":"rule","color":"black","strokeWidth":1.8},"encoding":{"y":{"datum":20}}},
  {"transform":[{"filter":"datum.k=='N'"}],"mark":{"type":"rule","color":"black","strokeWidth":1.8},"encoding":{"y":{"datum":1000}}},
  {"transform":[{"filter":"datum.k=='N'"}],"mark":{"type":"rule","color":"black","strokeWidth":1.8},"encoding":{"x":{"datum":0}}},
  {"transform":[{"filter":"datum.k=='N'"}],"mark":{"type":"rule","color":"black","strokeWidth":1.8},"encoding":{"x":{"datum":120}}}
 ]
}
},
{
"data":{"name":"cb"},
"width":655.5,"height":16,
"title":{"text":"Forecast Hour","font":"Liberation Mono","fontSize":21,"fontWeight":"normal","color":"black","anchor":"middle","offset":7},
"layer":[
 {"transform":[{"filter":"datum.k=='B'"}],"mark":{"type":"rect","stroke":"black","strokeWidth":1},
  "encoding":{
   "x":{"field":"lo","type":"quantitative","scale":{"domain":[-0.24,0.24],"nice":false,"zero":false},"axis":{"values":[-0.2,-0.16,-0.12,-0.08,-0.04,0,0.04,0.08,0.12,0.16,0.2],"format":".2~f","grid":false,"ticks":false,"domain":false,"labelFont":"Liberation Sans","labelFontSize":13,"labelPadding":4,"labelFlush":false}},
   "x2":{"field":"hi"},
   "y":{"datum":0,"type":"quantitative","scale":{"type":"linear","domain":[0,1],"nice":false,"zero":false},"axis":{"labels":false,"ticks":false,"domain":false,"grid":false,"minExtent":61,"maxExtent":61}},
   "y2":{"datum":1},
   "color":{"field":"c","type":"nominal","legend":null}
  }},
 {"transform":[{"filter":"datum.k=='T'"}],"mark":{"type":"area","orient":"vertical","stroke":"black","strokeWidth":1},
  "encoding":{
   "x":{"field":"x","type":"quantitative"},
   "y":{"field":"y","type":"quantitative"},
   "y2":{"field":"y2"},
   "color":{"field":"c","type":"nominal","legend":null},
   "detail":{"field":"c"}
  }},
 {"transform":[{"filter":"datum.k=='U'"}],"mark":{"type":"text","font":"Liberation Serif","fontSize":12,"color":"black","align":"left","baseline":"middle"},
  "encoding":{"x":{"datum":0.214},"y":{"datum":-0.75},"text":{"field":"s"}}}
]
}
]
}
